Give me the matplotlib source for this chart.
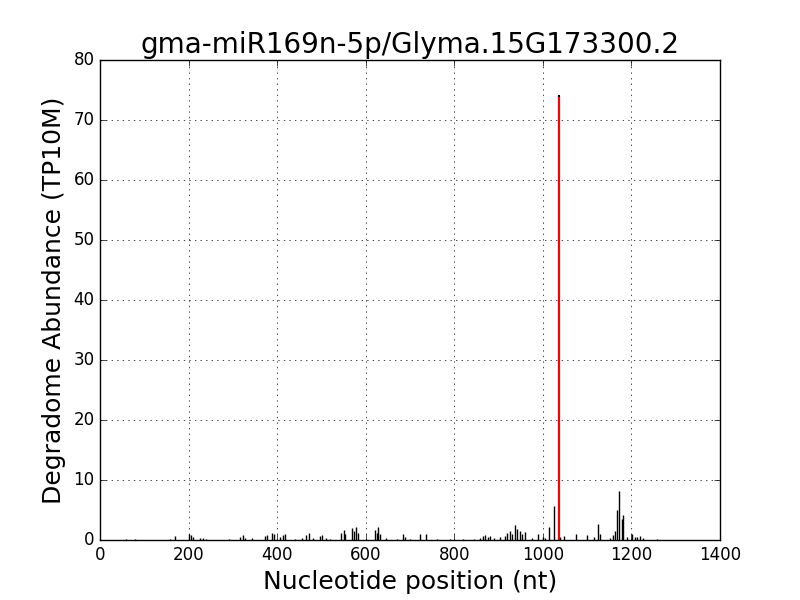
import numpy as np
import matplotlib
matplotlib.use("Agg")
import matplotlib.pyplot as plt

# posizioni (nt) e abbondanze (TP10M)
positions = [59, 79, 158, 169, 201, 205, 210, 225, 232, 240, 291, 316, 323, 328, 343,
             372, 377, 388, 393, 406, 413, 418, 440, 455, 465, 472, 480, 497, 501, 510,
             520, 545, 550, 553, 569, 573, 578, 583, 600, 621, 625, 628, 632, 646,
             670, 684, 689, 700, 722, 736, 760, 790, 820, 845, 858, 865, 870, 875, 880,
             890, 903, 914, 919, 926, 930, 937, 942, 948, 953, 960, 975, 989, 1000,
             1005, 1014, 1025, 1039, 1048, 1075, 1100, 1115, 1125, 1129, 1152, 1158,
             1163, 1167, 1172, 1178, 1181, 1190, 1201, 1208, 1213, 1220, 1225, 1258]
values = [0.2, 0.2, 0.2, 0.7, 1.0, 0.8, 0.5, 0.3, 0.3, 0.2, 0.2, 0.5, 0.8, 0.3, 0.3,
          0.7, 0.9, 1.2, 1.0, 0.5, 0.9, 1.0, 0.2, 0.3, 0.8, 1.2, 0.3, 0.7, 0.8, 0.3,
          0.2, 1.2, 1.6, 1.0, 2.0, 1.5, 2.2, 1.2, 0.2, 1.7, 1.2, 2.2, 1.0, 0.3,
          0.2, 1.0, 0.5, 0.2, 1.0, 1.0, 0.2, 0.2, 0.2, 0.2, 0.3, 0.6, 0.8, 0.5, 0.7,
          0.3, 0.5, 0.7, 1.2, 1.5, 1.0, 2.5, 1.8, 1.5, 1.0, 1.4, 0.3, 1.0, 0.5,
          0.3, 2.2, 5.7, 0.5, 0.7, 1.0, 0.8, 0.5, 2.7, 1.0, 0.3, 0.8,
          1.5, 5.0, 8.2, 3.5, 4.2, 0.5, 1.0, 0.5, 0.5, 0.6, 0.4, 0.2]

cleavage_pos = 1036
cleavage_val = 74.2

plt.style.use("classic")
fig = plt.figure(figsize=(8, 6), dpi=100, facecolor="white")
ax = fig.add_subplot(111)

ax.vlines(positions, 0, values, colors="black", linewidth=1.0)
ax.vlines([cleavage_pos], 0, [cleavage_val], colors="black", linewidth=1.5)
ax.vlines([cleavage_pos], 0, [cleavage_val - 0.3], colors="red", linewidth=1.5)

ax.set_xlim(0, 1400)
ax.set_ylim(0, 80)
ax.grid(True)
ax.set_title("gma-miR169n-5p/Glyma.15G173300.2", fontsize=20)
ax.set_xlabel("Nucleotide position (nt)", fontsize=18)
ax.set_ylabel("Degradome Abundance (TP10M)", fontsize=18)

plt.savefig("out.png", dpi=100, facecolor="white")
